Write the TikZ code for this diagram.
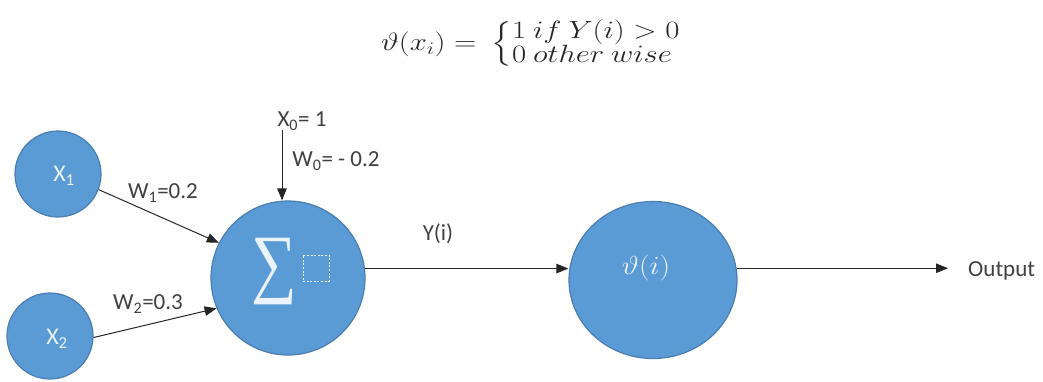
\RequirePackage{fix-cm}
\documentclass[tikz,border=0pt]{standalone}
\usepackage{amsmath}
\usepackage{fontspec}
\setmainfont{Carlito}
\newfontfamily\sigmafont{Liberation Serif}
\usepackage{graphicx}
\usetikzlibrary{arrows.meta,shapes.geometric}
\definecolor{nodeblue}{HTML}{5B9BD5}
\definecolor{nodeedge}{HTML}{4A7EB0}
\definecolor{nodetext}{HTML}{EAF2FB}
\definecolor{lbltext}{HTML}{404040}
\tikzset{
  neuron/.style={circle, fill=nodeblue, draw=nodeedge, line width=1.2pt, inner sep=0pt, minimum size=#1},
  intext/.style={text=nodetext, font=\fontsize{24}{24}\selectfont, inner sep=0pt},
  lbl/.style={text=lbltext, font=\fontsize{23}{23}\selectfont, inner sep=0pt},
  conn/.style={-{Triangle[length=12pt,width=9.5pt]}, line width=1pt, draw=black!85},
}
\begin{document}
\begin{tikzpicture}[x=1pt,y=-1pt]
\useasboundingbox (0,0) rectangle (1043,381);
% formula
\node[inner sep=0pt, text=black!85] (formula) at (531,44)
  {\scalebox{1.23}[1]{\fontsize{25}{25}\selectfont$\vartheta(x_i) = \
   \left\{\renewcommand\arraystretch{0.75}\begin{array}{@{}l@{}}1\ if\ Y(i) > 0\\ 0\ other\ wise\end{array}\right.$}};
% nodes
\node[neuron=86pt] (x1) at (58,174) {};
\node[intext] (x1t) at (64,176) {X\textsubscript{1}};
\node[neuron=86pt] (x2) at (50,336) {};
\node[intext] (x2t) at (57,339) {X\textsubscript{2}};
\node[neuron=154pt] (sum) at (288,278) {};
\node[text=nodetext, inner sep=0pt] (sig) at (274,272)
  {\scalebox{1.0}[1.2]{\sigmafont\fontsize{64}{64}\selectfont ∑}};
\node[draw=nodetext, dash pattern=on 2pt off 1.6pt, line width=1pt, minimum size=26pt, inner sep=0pt] (ph) at (316,268) {};
\node[ellipse, fill=nodeblue, draw=nodeedge, line width=1.2pt, inner sep=0pt,
      minimum width=168pt, minimum height=157pt] (th) at (653,280) {};
\node[text=nodetext, inner sep=0pt] (tht) at (646,268) {\scalebox{1.15}[1]{\fontsize{26}{26}\selectfont$\vartheta(i)$}};
% labels
\node[lbl] (w1) at (163,193) {W\textsubscript{1}=0.2};
\node[lbl] (w2) at (148,304) {W\textsubscript{2}=0.3};
\node[lbl] (x0) at (302,121) {X\textsubscript{0}= 1};
\node[lbl] (w0) at (336,161) {W\textsubscript{0}= - 0.2};
\node[lbl] (yi) at (438,234) {Y(i)};
\node[lbl, anchor=west] (out) at (968,271) {Output};
\coordinate (x0top) at (282,130);
% connectors
\draw[conn] (x1.-21) -- (sum.153);
\draw[conn] (x2.-2) -- (sum.203);
\draw[conn] (x0top) -- (x0top |- sum.north);
\draw[conn] (sum.7.46) -- (th.west |- sum.7.46);
\draw[conn, shorten >=20pt] (th.8.2) -- (th.8.2 -| out.west);
\end{tikzpicture}
\end{document}
